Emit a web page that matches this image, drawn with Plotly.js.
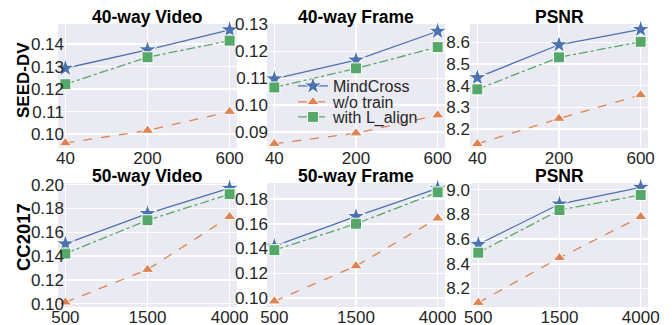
<!DOCTYPE html>
<html>
<head>
<meta charset="utf-8">
<script src="https://cdn.plot.ly/plotly-3.0.1.min.js"></script>
<style>html,body{margin:0;padding:0;background:#fff;}#chart{width:672px;height:325px;}</style>
</head>
<body>
<div id="chart"></div>
<script>
// ---- data ----
const xTop = ['40', '200', '600'];
const xBot = ['500', '1500', '4000'];
const seriesNames = ['MindCross', 'w/o train', 'with L_align'];
const panelTitles = ['40-way Video', '40-way Frame', 'PSNR', '50-way Video', '50-way Frame', 'PSNR'];
const rowLabels = ['SEED-DV', 'CC2017'];

// 40-way Video (SEED-DV)
const v40_mindcross = [0.1293, 0.1375, 0.1464];
const v40_wotrain   = [0.0960, 0.1016, 0.1100];
const v40_lalign    = [0.1222, 0.1342, 0.1416];
// 40-way Frame (SEED-DV)
const f40_mindcross = [0.1098, 0.1168, 0.1275];
const f40_wotrain   = [0.0857, 0.0896, 0.0963];
const f40_lalign    = [0.1066, 0.1137, 0.1216];
// PSNR (SEED-DV)
const p1_mindcross = [8.437, 8.589, 8.660];
const p1_wotrain   = [8.131, 8.248, 8.357];
const p1_lalign    = [8.383, 8.531, 8.603];
// 50-way Video (CC2017)
const v50_mindcross = [0.1502, 0.1757, 0.1970];
const v50_wotrain   = [0.1012, 0.1286, 0.1730];
const v50_lalign    = [0.1421, 0.1701, 0.1920];
// 50-way Frame (CC2017)
const f50_mindcross = [0.1419, 0.1659, 0.1886];
const f50_wotrain   = [0.0975, 0.1259, 0.1644];
const f50_lalign    = [0.1387, 0.1600, 0.1854];
// PSNR (CC2017)
const p2_mindcross = [8.557, 8.884, 9.019];
const p2_wotrain   = [8.085, 8.448, 8.780];
const p2_lalign    = [8.490, 8.835, 8.957];

// ---- styles ----
const W = 672, H = 325;
const colors = ['#4C72B0', '#DD8452', '#55A868'];
const dashes = ['solid', 'dash', 'dashdot'];
const symbols = ['star', 'triangle-up', 'square'];
const msizes = [14, 11, 11];
const FONT = 'Liberation Sans, Arial, sans-serif';
const legendNames = ['legend', 'legend2', 'legend3'];
const legendRowsY = [86, 102, 117];

const panels = [
  {x: xTop, s: [v40_mindcross, v40_wotrain, v40_lalign], yr: [0.0938, 0.1490], dt: 0.01, fmt: '.2f', so: -7},
  {x: xTop, s: [f40_mindcross, f40_wotrain, f40_lalign], yr: [0.0841, 0.1302], dt: 0.01, fmt: '.2f', so: -2},
  {x: xTop, s: [p1_mindcross, p1_wotrain, p1_lalign], yr: [8.112, 8.685], dt: 0.1, fmt: '.1f', so: -1},
  {x: xBot, s: [v50_mindcross, v50_wotrain, v50_lalign], yr: [0.0972, 0.2014], dt: 0.02, fmt: '.2f', so: -7},
  {x: xBot, s: [f50_mindcross, f50_wotrain, f50_lalign], yr: [0.0928, 0.1929], dt: 0.02, fmt: '.2f', so: -2},
  {x: xBot, s: [p2_mindcross, p2_wotrain, p2_lalign], yr: [8.05, 9.054], dt: 0.2, fmt: '.1f', so: 0}
];
// pixel boxes [left, right, top, bottom]
const boxes = [
  [58, 237, 24, 148], [267, 445, 24, 148], [470, 648, 24, 148],
  [58, 237, 183, 307], [267, 445, 183, 307], [471, 648, 183, 307]
];

const data = [];
const layout = {
  width: W, height: H,
  margin: {l: 0, r: 0, t: 0, b: 0},
  paper_bgcolor: '#ffffff',
  plot_bgcolor: '#EAEAF2',
  font: {family: FONT, color: '#262626'},
  showlegend: true,
  annotations: []
};
legendNames.forEach((ln, k) => {
  layout[ln] = {
    x: 293 / W, y: 1 - legendRowsY[k] / H, xanchor: 'left', yanchor: 'middle',
    bgcolor: 'rgba(0,0,0,0)', font: {size: 16, family: FONT, color: '#262626'},
    itemwidth: 30
  };
});

panels.forEach((p, i) => {
  const n = i + 1;
  const xa = 'x' + (n === 1 ? '' : n), ya = 'y' + (n === 1 ? '' : n);
  const b = boxes[i];
  p.s.forEach((vals, k) => {
    data.push({
      type: 'scatter', mode: 'lines+markers',
      x: p.x, y: vals, xaxis: xa, yaxis: ya,
      name: seriesNames[k], legend: legendNames[k],
      showlegend: i === 1,
      line: {color: colors[k], dash: dashes[k], width: 1.3},
      marker: {symbol: symbols[k], size: msizes[k], color: colors[k], line: {color: '#ffffff', width: 1}},
      cliponaxis: false
    });
  });
  const axKey = n === 1 ? '' : n;
  layout['xaxis' + axKey] = {
    domain: [b[0] / W, b[1] / W], anchor: ya,
    type: 'category', range: [-0.09, 2.09],
    showgrid: true, gridcolor: '#ffffff', gridwidth: 1.5,
    zeroline: false, showline: false, ticks: '',
    tickfont: {size: 17, family: FONT, color: '#262626'},
    ticklabelstandoff: -2
  };
  layout['yaxis' + axKey] = {
    domain: [1 - b[3] / H, 1 - b[2] / H], anchor: xa,
    range: p.yr, dtick: p.dt, tick0: 0, tickformat: p.fmt,
    showgrid: true, gridcolor: '#ffffff', gridwidth: 1.5,
    zeroline: false, showline: false, ticks: '',
    tickfont: {size: 17, family: FONT, color: '#262626'},
    ticklabelstandoff: p.so
  };
  layout.annotations.push({
    text: '<b>' + panelTitles[i] + '</b>', xref: 'paper', yref: 'paper',
    x: (b[0] + b[1]) / 2 / W, y: 1 - (b[2] - 7) / H, xanchor: 'center', yanchor: 'middle',
    showarrow: false, font: {size: 17.5, family: FONT, color: '#000000'}
  });
});
const rowLabelY = [80, 237];
const rowLabelSize = [17, 18.5];
rowLabels.forEach((t, r) => {
  layout.annotations.push({
    text: '<b>' + t + '</b>', xref: 'paper', yref: 'paper',
    x: 23 / W, y: 1 - rowLabelY[r] / H, xanchor: 'center', yanchor: 'middle',
    textangle: -90, showarrow: false, font: {size: rowLabelSize[r], family: FONT, color: '#000000'}
  });
});

Plotly.newPlot('chart', data, layout, {displayModeBar: false, staticPlot: true});
</script>
</body>
</html>
